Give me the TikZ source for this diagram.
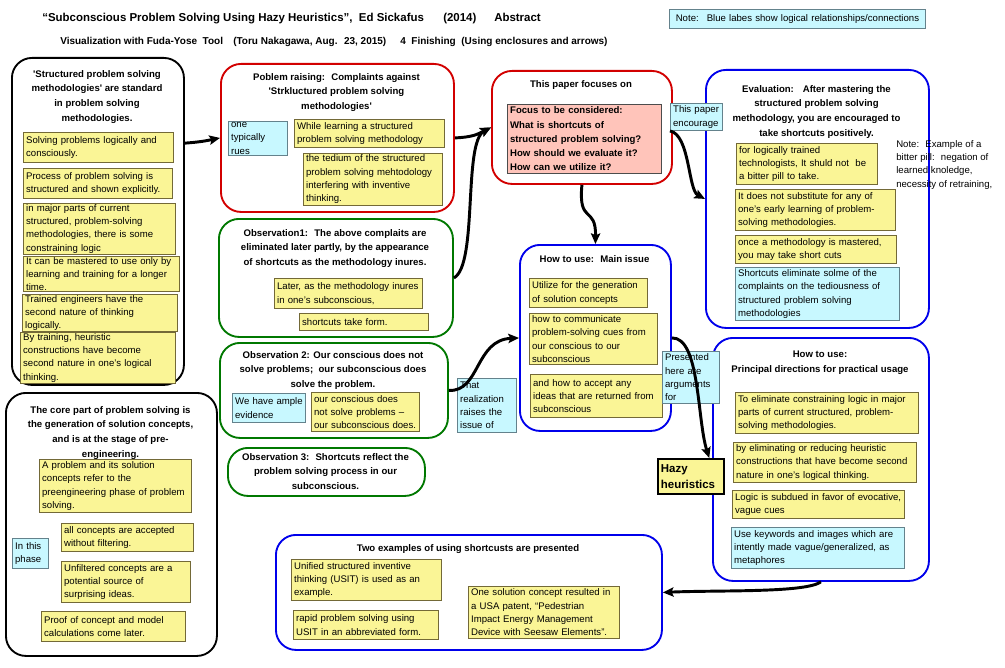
\documentclass[tikz,border=0pt]{standalone}
\usepackage{fontspec}
\setmainfont{Liberation Sans}
\usetikzlibrary{arrows.meta}
\definecolor{yelfill}{RGB}{250,245,150}
\definecolor{yelline}{RGB}{115,105,55}
\definecolor{cynfill}{RGB}{200,248,255}
\definecolor{cynline}{RGB}{100,130,140}
\definecolor{pnkfill}{RGB}{255,196,186}
\definecolor{redline}{RGB}{210,0,0}
\definecolor{grnline}{RGB}{0,120,0}
\definecolor{bluline}{RGB}{0,0,235}
\hyphenpenalty=10000
\exhyphenpenalty=10000
\begin{document}
\begin{tikzpicture}[x=0.75pt, y=-0.75pt,
    font=\fontsize{7.2}{10}\selectfont,
    >={Stealth[length=8pt,width=7pt,inset=1.5pt]},
    encl/.style 2 args={draw, line width=1.4pt, rounded corners=15pt, anchor=north west,
      inner sep=0pt, minimum width=#1*0.75pt, minimum height=#2*0.75pt},
    headtxt/.style={font=\bfseries\fontsize{7.2}{11}\selectfont, align=center, anchor=north, inner sep=0pt},
    yel/.style 2 args={draw=yelline, fill=yelfill, line width=0.7pt, anchor=north west,
      inner xsep=2pt, inner ysep=0.6pt, align=left, text width=#1*0.75pt-4pt, minimum height=#2*0.75pt},
    cyn/.style 2 args={yel={#1}{#2}, draw=cynline, fill=cynfill},
    pnk/.style 2 args={yel={#1}{#2}, draw=black!70, fill=pnkfill, font=\bfseries\fontsize{7.2}{10.7}\selectfont},
    notetxt/.style={anchor=north west, align=left, inner sep=0pt},
    link/.style={->, line width=2.2pt}]
    \path [use as bounding box, fill=white] (0,0) rectangle (1005,667);
    % title lines
    \node [anchor=west, inner sep=0pt, font=\bfseries\fontsize{8.6}{10}\selectfont] (title) at (42,19)
        {\makebox[300.75pt][l]{“Subconscious Problem Solving Using Hazy Heuristics”,~ Ed Sickafus}\makebox[38.25pt][l]{(2014)}Abstract};
    \node [anchor=west, inner sep=0pt, font=\bfseries\fontsize{7.5}{9}\selectfont] (subtitle) at (60,42)
        {\makebox[129.75pt][l]{Visualization with Fuda-Yose~ Tool}\makebox[125.25pt][l]{(Toru Nakagawa, Aug.~ 23, 2015)}4~ Finishing~ (Using enclosures and arrows)};
    \node [cyn={256}{19}, align=center] (nb) at (669,9) {Note:~ Blue labes show logical relationships/connections};
    % enclosures
    \node [encl={172}{327}, draw=black] (std) at (11,57) {};
    \node [encl={211}{263}, draw=black] (core) at (5,392) {};
    \node [encl={233}{148}, draw=redline] (raise) at (220,63) {};
    \node [encl={234}{118}, draw=grnline] (obs1) at (218,218) {};
    \node [encl={228}{95}, draw=grnline] (obs2) at (219,342) {};
    \node [encl={197}{48}, draw=grnline] (obs3) at (227,447) {};
    \node [encl={180}{113}, draw=redline] (focus) at (491,70) {};
    \node [encl={223}{258}, draw=bluline] (eval) at (705,69) {};
    \node [encl={151}{186}, draw=bluline] (mainuse) at (519,244) {};
    \node [encl={216}{243}, draw=bluline] (princ) at (712,337) {};
    \node [encl={386}{115}, draw=bluline] (ex) at (275,534) {};
    % headings
    \node [headtxt] (stdh) at (97,70) {\textquotesingle Structured problem solving\\methodologies\textquotesingle{} are standard\\in problem solving\\methodologies.};
    \node [headtxt] (coreh) at (110.5,406) {The core part of problem solving is\\the generation of solution concepts,\\and is at the stage of pre-\\engineering.};
    \node [headtxt] (raiseh) at (336.5,73) {Poblem raising:~ Complaints against\\\textquotesingle Strkluctured problem solving\\methodologies\textquotesingle};
    \node [headtxt] (obs1h) at (335,229) {Observation1:~ The above complaits are\\eliminated later partly, by the appearance\\of shortcuts as the methodology inures.};
    \node [headtxt] (obs2h) at (333,351) {Observation 2: Our conscious does not\\solve problems;~ our subconscious does\\solve the problem.};
    \node [headtxt] (obs3h) at (325.5,453) {Observation 3:~ Shortcuts reflect the\\problem solving process in our\\subconscious.};
    \node [headtxt] (focush) at (581,80) {This paper focuses on};
    \node [headtxt] (evalh) at (816.5,85) {Evaluation:~~ After mastering the\\structured problem solving\\methodology, you are encouraged to\\take shortcuts positively.};
    \node [headtxt] (mainh) at (594.5,255) {How to use:~ Main issue};
    \node [headtxt] (princh) at (820,351) {How to use:\\Principal directions for practical usage};
    \node [headtxt] (exh) at (468,544) {Two examples of using shortcusts are presented};
    % left column
    \node [yel={150}{30}] (s1) at (23,132) {Solving problems logically and\\consciously.};
    \node [yel={149}{30}] (s2) at (23,168) {Process of problem solving is\\structured and shown explicitly.};
    \node [yel={152}{43}] (s3) at (23,203) {in major parts of current\\structured, problem-solving\\methodologies, there is some\\constraining logic};
    \node [yel={156}{29}] (s4) at (23,256) {It can be mastered to use only by\\learning and training for a longer\\time.};
    \node [yel={155}{30}] (s5) at (22,294) {Trained engineers have the\\second nature of thinking\\logically.};
    \node [yel={155}{47}] (s6) at (20,332) {By training, heuristic\\constructions have become\\second nature in one's logical\\thinking.};
    \node [yel={152}{53}] (c1) at (39,459) {A problem and its solution\\concepts refer to the\\preengineering phase of problem\\solving.};
    \node [yel={132}{28}] (c2) at (61,523) {all concepts are accepted\\without filtering.};
    \node [yel={129}{41}] (c3) at (61,561) {Unfiltered concepts are a\\potential source of\\surprising ideas.};
    \node [yel={144}{30}] (c4) at (41,611) {Proof of concept and model\\calculations come later.};
    \node [cyn={36}{30}] (cph) at (12,538) {In this\\phase};
    % middle column
    \node [cyn={59}{29}] (rq) at (228,121) {one\\typically\\rues};
    \node [yel={150}{28}] (r1) at (294,119) {While learning a structured\\problem solving methodology};
    \node [yel={139}{52}] (r2) at (303,153) {the tedium of the structured\\problem solving mehtodology\\interfering with inventive\\thinking.};
    \node [yel={148}{30}] (o1) at (274,278) {Later, as the methodology inures\\in one's subconscious,};
    \node [yel={129}{17}] (o2) at (299,313) {shortcuts take form.};
    \node [cyn={73}{29}] (o3) at (232,393) {We have ample\\evidence};
    \node [yel={108}{39}] (o4) at (311,392) {our conscious does\\not solve problems –\\our subconscious does.};
    % focus and evaluation
    \node [pnk={154}{69}] (fq) at (507,104) {Focus to be considered:\\What is shortcuts of\\structured problem solving?\\How should we evaluate it?\\How can we utilize it?};
    \node [cyn={52}{27}] (enc) at (670,103) {This paper\\encourage};
    \node [yel={141}{41}] (e1) at (736,143) {for logically trained\\technologists, It shuld not~ be\\a bitter pill to take.};
    \node [yel={160}{41}] (e2) at (735,189) {It does not substitute for any of\\one's early learning of problem-\\solving methodologies.};
    \node [yel={161}{28}] (e3) at (735,235) {once a methodology is mastered,\\you may take short cuts};
    \node [cyn={164}{53}] (e4) at (735,267) {Shortcuts eliminate solme of the\\complaints on the tediousness of\\structured problem solving\\methodologies};
    \node [notetxt] (pill) at (896,140) {Note:~ Example of a\\bitter pill:~ negation of\\learned knoledge,\\necessity of retraining,};
    % how to use
    \node [yel={118}{29}] (m1) at (529,278) {Utilize for the generation\\of solution concepts};
    \node [yel={128}{51}] (m2) at (529,313) {how to communicate\\problem-solving cues from\\our conscious to our\\subconscious};
    \node [yel={132}{43}] (m3) at (530,374) {and how to accept any\\ideas that are returned from\\subconscious};
    \node [cyn={59}{54}] (real) at (457,378) {That\\realization\\raises the\\issue of};
    \node [cyn={57}{52}] (pres) at (662,351) {Presented\\here are\\arguments\\for};
    \node [yel={66}{35}, draw=black, line width=1.8pt, font=\bfseries\fontsize{8.6}{12.5}\selectfont] (hazy) at (657,458) {Hazy\\heuristics};
    \node [yel={183}{41}] (p1) at (735,392) {To eliminate constraining logic in major\\parts of current structured, problem-\\solving methodologies.};
    \node [yel={183}{40}] (p2) at (733,442) {by eliminating or reducing heuristic\\constructions that have become second\\nature in one's logical thinking.};
    \node [yel={172}{28}] (p3) at (732,490) {Logic is subdued in favor of evocative,\\vague cues};
    \node [cyn={173}{41}] (p4) at (731,527) {Use keywords and images which are\\intently made vague/generalized, as\\metaphores};
    % examples
    \node [yel={150}{41}] (x1) at (291,559) {Unified structured inventive\\thinking (USIT) is used as an\\example.};
    \node [yel={145}{29}] (x2) at (293,610) {rapid problem solving using\\USIT in an abbreviated form.};
    \node [yel={151}{52}] (x3) at (468,586) {One solution concept resulted in\\a USA patent, “Pedestrian\\Impact Energy Management\\Device with Seesaw Elements”.};
    % arrows
    \draw [link] (std.42) .. controls (200,142) and (205,141) .. (raise.west);
    \draw [link] (raise.east) .. controls (473,137) and (477,134.5) .. (focus.west);
    \draw [link] (obs1.east) .. controls (478,265) and (463,142.5) .. (focus.west);
    \draw [link] (focus.south) .. controls (578,225) and (596,205) .. (mainuse.north);
    \draw [link] (enc.south west) .. controls (690,135) and (688,190) .. (eval.west);
    \draw [link] (obs2.east) .. controls (480,392) and (475,340) .. (mainuse.west);
    \draw [link] (mainuse.east) .. controls (700,337) and (697,420) .. (hazy.46);
    \draw [link] (princ.south) .. controls (805,593) and (720,590) .. (ex.east);
\end{tikzpicture}
\end{document}
